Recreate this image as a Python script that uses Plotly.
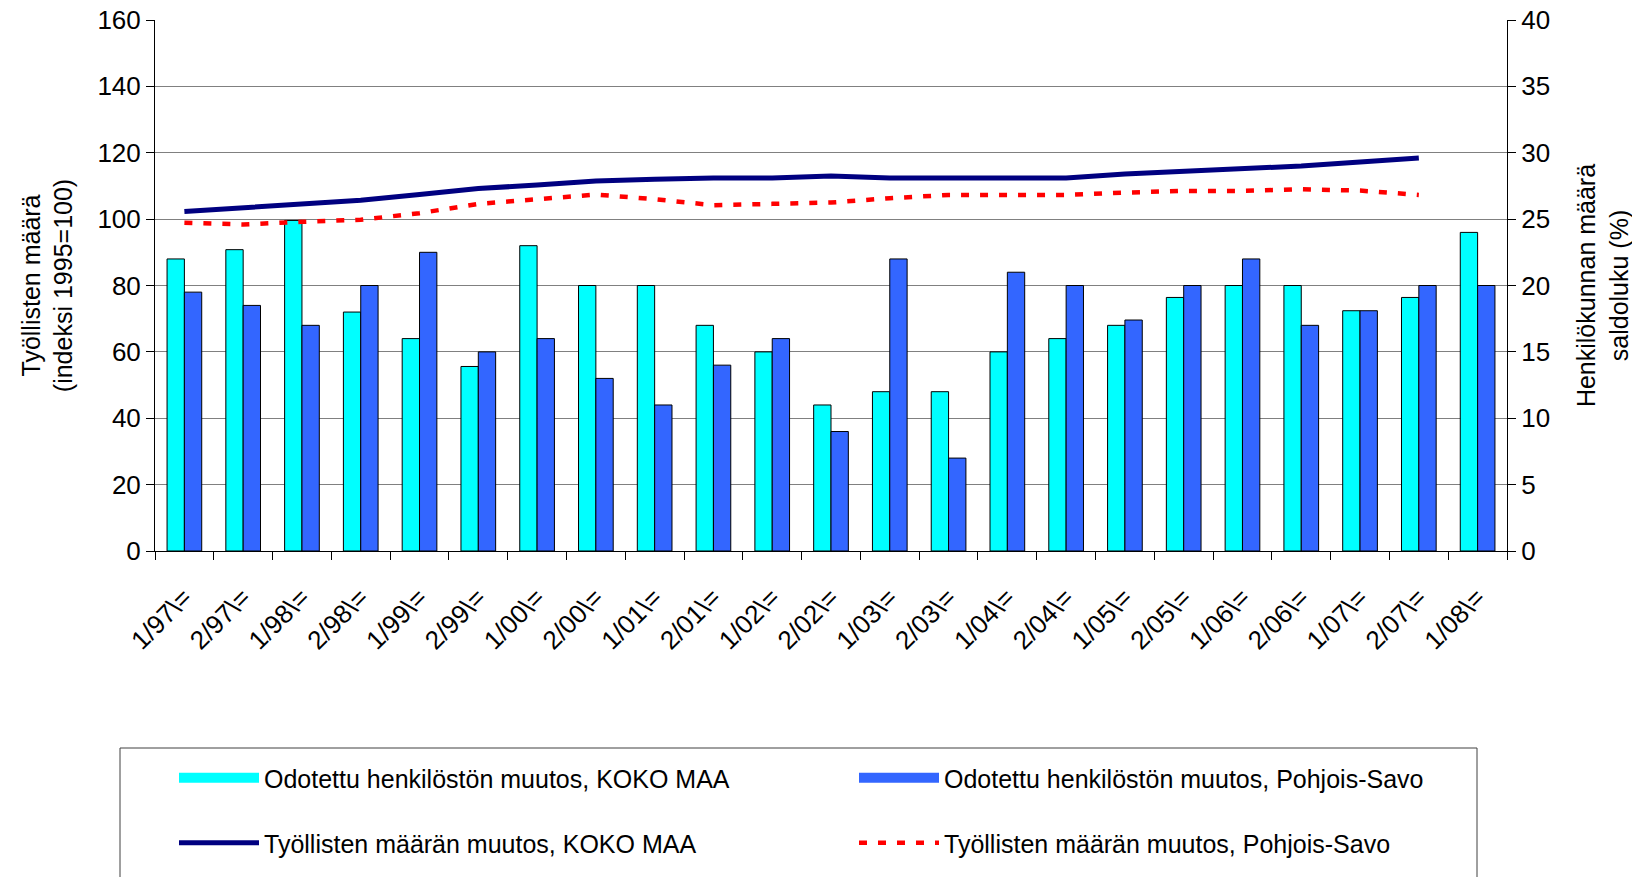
import plotly.graph_objects as go

# =========================================================
# Data
# =========================================================

quarters = [
    "1/97\\=", "2/97\\=", "1/98\\=", "2/98\\=", "1/99\\=", "2/99\\=",
    "1/00\\=", "2/00\\=", "1/01\\=", "2/01\\=", "1/02\\=", "2/02\\=",
    "1/03\\=", "2/03\\=", "1/04\\=", "2/04\\=", "1/05\\=", "2/05\\=",
    "1/06\\=", "2/06\\=", "1/07\\=", "2/07\\=", "1/08\\="
]

# Odotettu henkilöstön muutos (saldoluku %, right axis)
henk_koko_maa = [
    22, 22.7, 24.9, 18, 16, 13.9, 23, 20, 20, 17, 15, 11,
    12, 12, 15, 16, 17, 19.1, 20, 20, 18.1, 19.1, 24
]
henk_pohjois_savo = [
    19.5, 18.5, 17, 20, 22.5, 15, 16, 13, 11, 14, 16, 9,
    22, 7, 21, 20, 17.4, 20, 22, 17, 18.1, 20, 20
]

# Työllisten määrä (indeksi 1995=100, left axis), no value for 1/08
tyoll_koko_maa = [
    102.3, 103.5, 104.6, 105.7, 107.4, 109.2, 110.3, 111.5, 112.0, 112.4,
    112.4, 113.0, 112.4, 112.4, 112.4, 112.4, 113.6, 114.3, 115.3, 116.0,
    117.2, 118.4
]
tyoll_pohjois_savo = [
    98.9, 98.4, 99.2, 99.8, 101.8, 104.6, 106.0, 107.4, 106.0, 104.2,
    104.6, 105.0, 106.3, 107.3, 107.3, 107.3, 108.0, 108.5, 108.5, 109.0,
    108.6, 107.3
]

FONT = "Liberation Sans, Arial, sans-serif"

# page body adds an 8px margin, so the figure is a bit smaller than the window
W, H = 1632, 869
ML, MT, PW, PH = 147, 12, 1352, 531

CYAN = "#00FFFF"
BLUE = "#3366FF"
NAVY = "#000080"
RED = "#FF0000"

# =========================================================
# Figure
# =========================================================

fig = go.Figure()

fig.add_trace(go.Bar(
    x=quarters,
    y=henk_koko_maa,
    name="Odotettu henkilöstön muutos, KOKO MAA",
    marker=dict(color=CYAN, line=dict(color="black", width=1)),
    showlegend=False,
    yaxis="y"
))

fig.add_trace(go.Bar(
    x=quarters,
    y=henk_pohjois_savo,
    name="Odotettu henkilöstön muutos, Pohjois-Savo",
    marker=dict(color=BLUE, line=dict(color="black", width=1)),
    showlegend=False,
    yaxis="y"
))

fig.add_trace(go.Scatter(
    x=quarters[:len(tyoll_koko_maa)],
    y=tyoll_koko_maa,
    name="Työllisten määrän muutos, KOKO MAA",
    mode="lines",
    line=dict(color=NAVY, width=5),
    legend="legend3",
    yaxis="y2"
))

fig.add_trace(go.Scatter(
    x=quarters[:len(tyoll_pohjois_savo)],
    y=tyoll_pohjois_savo,
    name="Työllisten määrän muutos, Pohjois-Savo",
    mode="lines",
    line=dict(color=RED, width=4.5, dash="8px,11px"),
    legend="legend4",
    yaxis="y2"
))

# wide legend keys for the bar series (Excel-style rectangles)
fig.add_trace(go.Scatter(
    x=[None], y=[None],
    name="Odotettu henkilöstön muutos, KOKO MAA",
    mode="lines",
    line=dict(color=CYAN, width=14),
    legend="legend",
    yaxis="y2"
))

fig.add_trace(go.Scatter(
    x=[None], y=[None],
    name="Odotettu henkilöstön muutos, Pohjois-Savo",
    mode="lines",
    line=dict(color=BLUE, width=14),
    legend="legend2",
    yaxis="y2"
))


def legend_at(x_px, y_px):
    return dict(
        orientation="h",
        xref="container",
        yref="container",
        x=x_px / W,
        y=1 - y_px / H,
        xanchor="left",
        yanchor="middle",
        itemwidth=80,
        borderwidth=0,
        bgcolor="rgba(0,0,0,0)",
        font=dict(family=FONT, size=25)
    )


fig.update_layout(
    width=W,
    height=H,
    paper_bgcolor="white",
    plot_bgcolor="white",
    font=dict(family=FONT, size=26, color="black"),
    margin=dict(l=ML, r=W - ML - PW, t=MT, b=H - MT - PH, autoexpand=False),
    barmode="group",
    bargap=0.41,
    bargroupgap=0,
    showlegend=True,
    legend=legend_at(166, 770),
    legend2=legend_at(846, 770),
    legend3=legend_at(166, 835),
    legend4=legend_at(846, 835),
    xaxis=dict(
        type="category",
        tickangle=-45,
        tickson="boundaries",
        ticks="outside",
        ticklen=8,
        tickcolor="black",
        showline=True,
        linecolor="black",
        linewidth=1,
        showgrid=False,
        automargin=False,
        ticklabelstandoff=20,
        tickfont=dict(size=26)
    ),
    yaxis=dict(
        side="right",
        range=[0, 40],
        dtick=5,
        ticks="outside",
        ticklen=8,
        tickcolor="black",
        showline=True,
        linecolor="black",
        linewidth=1,
        showgrid=True,
        gridcolor="#808080",
        gridwidth=1,
        zeroline=False,
        automargin=False,
        ticklabeloverflow="allow",
        title=dict(
            text="Henkilökunnan määrä<br>saldoluku (%)",
            font=dict(size=25),
            standoff=28
        )
    ),
    yaxis2=dict(
        side="left",
        overlaying="y",
        range=[0, 160],
        dtick=20,
        ticks="outside",
        ticklen=8,
        tickcolor="black",
        showline=True,
        linecolor="black",
        linewidth=1,
        showgrid=False,
        zeroline=False,
        automargin=False,
        ticklabeloverflow="allow",
        title=dict(
            text="Työllisten määrä<br>(indeksi 1995=100)",
            font=dict(size=25),
            standoff=17
        )
    ),
    shapes=[
        dict(
            type="rect",
            xref="paper",
            yref="paper",
            x0=(112 - ML) / PW,
            x1=(1469 - ML) / PW,
            y0=-(740 - MT - PH) / PH,
            y1=-(880 - MT - PH) / PH,
            line=dict(color="#404040", width=1),
            fillcolor="rgba(0,0,0,0)",
            layer="below"
        )
    ]
)

fig.write_html("out.html")
